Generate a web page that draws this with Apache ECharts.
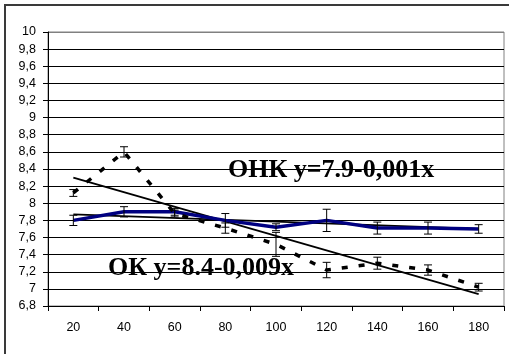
<!DOCTYPE html>
<html>
<head>
<meta charset="utf-8">
<script src="https://cdn.jsdelivr.net/npm/echarts@6/dist/echarts.min.js"></script>
<style>
  html, body { margin: 0; padding: 0; background: #fff; }
  #chart { width: 509px; height: 354px; }
</style>
</head>
<body>
<div id="chart"></div>
<script>
// Days on the x axis
var categories = ['20', '40', '60', '80', '100', '120', '140', '160', '180'];

// ОНК: mean values and half-width of error bars
var onkValues = [7.8, 7.9, 7.9, 7.8, 7.72, 7.8, 7.71, 7.71, 7.7];
var onkErrors = [0.06, 0.06, 0.04, 0.08, 0.04, 0.13, 0.07, 0.07, 0.05];

// ОК: mean values and half-width of error bars
var okValues = [8.12, 8.6, 7.88, 7.71, 7.52, 7.22, 7.3, 7.22, 7.02];
var okErrors = [0.04, 0.06, 0.04, 0.06, 0.14, 0.09, 0.07, 0.06, 0.045];

// Linear trend lines (end points at 20 and 180)
var onkTrend = [7.87, null, null, null, null, null, null, null, 7.7];
var okTrend = [8.3, null, null, null, null, null, null, null, 6.94];

// Trend equations printed on the plot
var onkLabel = 'ОНК y=7.9-0,001x';
var okLabel = 'ОК y=8.4-0,009x';

// Y axis range
var yMin = 6.8, yMax = 10, yStep = 0.2;

function errorData(values, errors) {
  return values.map(function (v, i) { return [i, v - errors[i], v + errors[i]]; });
}

function renderError(params, api) {
  var i = api.value(0);
  var lo = api.coord([i, api.value(1)]);
  var hi = api.coord([i, api.value(2)]);
  var cap = 4;
  var style = { stroke: '#000', lineWidth: 1 };
  return {
    type: 'group',
    children: [
      { type: 'line', shape: { x1: hi[0], y1: hi[1], x2: lo[0], y2: lo[1] }, style: style },
      { type: 'line', shape: { x1: hi[0] - cap, y1: hi[1], x2: hi[0] + cap, y2: hi[1] }, style: style },
      { type: 'line', shape: { x1: lo[0] - cap, y1: lo[1], x2: lo[0] + cap, y2: lo[1] }, style: style }
    ]
  };
}

var gridColors = [];
for (var k = 0; k < 16; k++) gridColors.push('#000');
gridColors.push('#808080');

var chart = echarts.init(document.getElementById('chart'));
chart.setOption({
  backgroundColor: '#fff',
  animation: false,
  grid: {
    left: 48, right: 5, top: 32, bottom: 48,
    show: true, borderColor: '#808080', borderWidth: 1, backgroundColor: 'transparent'
  },
  xAxis: {
    type: 'category',
    data: categories,
    boundaryGap: true,
    axisLine: { lineStyle: { color: '#000', width: 1 } },
    axisTick: { show: true, length: 5, lineStyle: { color: '#000' } },
    axisLabel: { color: '#000', fontFamily: 'Liberation Sans, Arial', fontSize: 12.5, margin: 15 },
    splitLine: { show: false }
  },
  yAxis: {
    type: 'value',
    min: yMin, max: yMax, interval: yStep,
    axisLine: { show: true, lineStyle: { color: '#000', width: 1 } },
    axisTick: { show: true, length: 5, lineStyle: { color: '#000' } },
    axisLabel: {
      color: '#000', fontFamily: 'Liberation Sans, Arial', fontSize: 12.5, margin: 12,
      formatter: function (v) { return String(Number(v.toFixed(1))).replace('.', ','); }
    },
    splitLine: { show: true, lineStyle: { color: gridColors, width: 1 } }
  },
  series: [
    {
      name: 'ОНК тренд', type: 'line', data: onkTrend, connectNulls: true,
      showSymbol: false, symbol: 'none',
      lineStyle: { color: '#000', width: 1.8 }, z: 3
    },
    {
      name: 'ОК тренд', type: 'line', data: okTrend, connectNulls: true,
      showSymbol: false, symbol: 'none',
      lineStyle: { color: '#000', width: 1.8 }, z: 3
    },
    {
      name: 'ОНК', type: 'line', data: onkValues,
      showSymbol: false, symbol: 'none',
      lineStyle: { color: '#000080', width: 3.5 }, z: 4
    },
    {
      name: 'ОК', type: 'line', data: okValues,
      showSymbol: false, symbol: 'none',
      lineStyle: { color: '#000', width: 3.5, type: [6, 11] }, z: 4
    },
    {
      name: 'ОНК ошибка', type: 'custom', renderItem: renderError,
      data: errorData(onkValues, onkErrors), z: 5
    },
    {
      name: 'ОК ошибка', type: 'custom', renderItem: renderError,
      data: errorData(okValues, okErrors), z: 5
    }
  ],
  graphic: [
    {
      type: 'rect', silent: true, z: 100,
      shape: { x: 5, y: 5, width: 600, height: 500 },
      style: { fill: 'none', stroke: '#3a3a3a', lineWidth: 2 }
    },
    {
      type: 'text', left: 228, top: 157, z: 50,
      style: {
        text: onkLabel, fill: '#000',
        font: 'bold 26px "Liberation Serif", "Times New Roman", serif'
      }
    },
    {
      type: 'text', left: 108, top: 255, z: 50,
      style: {
        text: okLabel, fill: '#000',
        font: 'bold 26px "Liberation Serif", "Times New Roman", serif'
      }
    }
  ]
});
</script>
</body>
</html>
